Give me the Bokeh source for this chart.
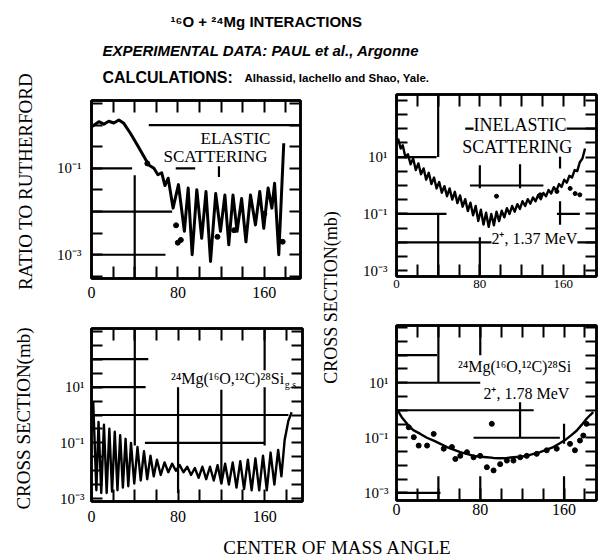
import numpy as np
from bokeh.plotting import figure
from bokeh.models import Range1d, FixedTicker, LinearAxis, LogAxis, Label
from bokeh.layouts import row, column
from bokeh.core.properties import value
from bokeh.embed import file_html
from bokeh.resources import INLINE

SERIF = "Liberation Serif"
SANS = "Liberation Sans"

# ---------------- texts ----------------
title_line1 = "¹⁶O + ²⁴Mg INTERACTIONS"
title_line2 = "EXPERIMENTAL DATA: PAUL et al., Argonne"
title_line3a = "CALCULATIONS:"
title_line3b = "Alhassid, Iachello and Shao, Yale."
ylabel_ratio = "RATIO TO RUTHERFORD"
ylabel_xs = "CROSS SECTION(mb)"
xlabel = "CENTER OF MASS ANGLE"

# ---------------- ticks ----------------
angle_ticks = [0, 20, 40, 60, 80, 100, 120, 140, 160, 180]
angle_tick_labels = {0: "0", 80: "80", 160: "160"}
ratio_tick_labels = {-1: "10⁻¹", -3: "10⁻³"}
xs_tick_labels = {1: "10¹", -1: "10⁻¹", -3: "10⁻³"}

# ---------------- data: elastic scattering (ratio to Rutherford) ----------------
elastic_angle = [0, 3.5, 6.8, 11.4, 16, 20.6, 25.3, 29.9, 36, 42.3, 48.4, 53, 57.8,
                 61.5, 65, 68, 71, 75.5, 80.5, 86, 89.5, 93.2, 97.5, 102, 106, 110.2,
                 115, 119.4, 123.5, 127.1, 131, 134.8, 139, 143, 147.2, 151.8, 155.8,
                 159.5, 163.5, 167, 169.5, 173.4, 178]
elastic_ratio = [0.91, 1.05, 1.2, 1.05, 1.23, 1.12, 1.32, 1.1, 0.65, 0.35, 0.19, 0.12, 0.10,
                 0.071, 0.079, 0.040, 0.059, 0.012, 0.042, 0.0035, 0.035, 0.0010, 0.032,
                 0.0024, 0.029, 0.0007, 0.026, 0.0035, 0.024, 0.0017, 0.024, 0.0035, 0.020,
                 0.0020, 0.024, 0.0049, 0.029, 0.0041, 0.035, 0.012, 0.045, 0.0010, 0.38]
elastic_data_angle = [51.7, 78.3, 79.9, 82.7, 116.6, 132, 160, 177]
elastic_data_ratio = [0.13, 0.0048, 0.0019, 0.0022, 0.0026, 0.0037, 0.0089, 0.0020]

# ---------------- data: inelastic scattering 2+, 1.37 MeV (mb) ----------------
inelastic_angle = [1.5, 4, 6, 8.5, 11, 13.5, 16, 18.5, 21, 23.5, 26, 28.5, 31, 33.5, 36,
                   38.5, 41, 43.5, 46, 48.5, 51, 53.5, 56, 58.5, 61, 63.5, 66, 68.5, 71,
                   73.5, 76, 78.5, 81, 83.5, 86, 88.5, 91, 93.5, 96, 98.5, 101, 103.5, 106,
                   108.5, 111, 113.5, 116, 118.5, 121, 123.5, 126, 128.5, 131, 133.5, 136,
                   138.5, 141, 143.5, 146, 148.5, 151, 153.5, 156, 158.5, 161, 163.5, 166,
                   168.5, 171, 173.5, 176, 178.5, 181]
inelastic_xs = [45, 20, 26, 10, 12.6, 5.6, 8.9, 3.5, 6.0, 2.5,
                4.0, 1.6, 2.8, 1.12, 1.9, 0.79, 1.32, 0.56, 0.95, 0.42,
                0.79, 0.32, 0.60, 0.24, 0.45, 0.18, 0.33, 0.126, 0.25, 0.089,
                0.19, 0.056, 0.14, 0.042, 0.11, 0.035, 0.10, 0.040, 0.12, 0.056,
                0.13, 0.076, 0.16, 0.10, 0.19, 0.12, 0.22, 0.15, 0.28, 0.19,
                0.33, 0.23, 0.38, 0.28, 0.46, 0.33, 0.55, 0.42, 0.69, 0.52,
                0.87, 0.66, 1.12, 0.89, 1.6, 1.26, 2.2, 1.9, 3.5, 3.2,
                6.6, 8.9, 20]
inelastic_data_angle = [96, 138, 154, 166.7, 171.5, 176]
inelastic_data_xs = [0.42, 0.47, 0.62, 0.79, 0.52, 0.47]

# ---------------- data: 24Mg(16O,12C)28Si g.s. (mb) ----------------
transfer_gs_angle = [0.5, 1.6, 4.5, 6.5, 9, 11.5, 14, 16.5, 19, 21.5,
                     24, 26.5, 29, 31.5, 34, 36.5, 39.5, 42.5, 45.5, 48.5,
                     51.5, 54.5, 57.5, 60.5, 64, 67.5, 71, 74.5, 78, 81.5,
                     85, 88.5, 92, 95.5, 99, 102.5, 106, 109.5, 113, 116.5,
                     120, 123.5, 127, 130.5, 134, 137.5, 141, 144.5, 148, 151.5,
                     155, 158.5, 162, 165.5, 169, 172.5, 175.5, 178.5, 182, 185]
transfer_gs_xs = [1.26, 2.8, 0.002, 0.56, 0.0016, 0.45, 0.0016, 0.32, 0.0018, 0.25,
                  0.002, 0.19, 0.0025, 0.14, 0.0028, 0.10, 0.0035, 0.071, 0.0045, 0.050,
                  0.005, 0.035, 0.0063, 0.025, 0.0071, 0.020, 0.0089, 0.018, 0.010, 0.016,
                  0.0089, 0.014, 0.0071, 0.0126, 0.0056, 0.014, 0.005, 0.014, 0.0045, 0.016,
                  0.0035, 0.018, 0.0032, 0.020, 0.0025, 0.022, 0.0022, 0.025, 0.002, 0.028,
                  0.002, 0.035, 0.002, 0.045, 0.0032, 0.056, 0.0063, 0.126, 0.63, 1.26]

# ---------------- data: 24Mg(16O,12C)28Si 2+, 1.78 MeV (mb) ----------------
transfer_2p_angle = [1.2, 5, 10.1, 16, 22.8, 29, 35.5, 42, 48.2, 54.5,
                     60.9, 67, 73.6, 80, 86.3, 92.6, 99, 105.4, 111.7, 118,
                     124.4, 130.8, 137.1, 143.5, 149.8, 156, 162.5, 167, 172, 177,
                     181.5, 185, 187.9]
transfer_2p_xs = [0.98, 0.56, 0.32, 0.19, 0.138, 0.10, 0.079, 0.06, 0.046, 0.037,
                  0.030, 0.026, 0.022, 0.0205, 0.0195, 0.0185, 0.018, 0.0185, 0.0195, 0.0205,
                  0.022, 0.026, 0.030, 0.037, 0.046, 0.063, 0.091, 0.125, 0.18, 0.30,
                  0.49, 0.67, 0.85]
transfer_2p_data_angle = [11.7, 16.5, 21.2, 29.2, 35.5, 45.1, 52.9, 56.2, 60.9, 67.3,
                          73.6, 79.9, 86.3, 91, 92.7, 99, 105.4, 111.7, 118.1, 124.4,
                          133.9, 143.5, 153, 165.7, 170.4, 175.2, 178.4, 181.5]
transfer_2p_data_xs = [0.24, 0.105, 0.052, 0.052, 0.138, 0.040, 0.046, 0.017, 0.022, 0.030,
                       0.0195, 0.022, 0.0085, 0.32, 0.0065, 0.011, 0.0148, 0.0148, 0.0195, 0.022,
                       0.026, 0.035, 0.040, 0.060, 0.035, 0.079, 0.12, 0.32]

# ---------------- broken grid fragments of the scan: (level, from, to) / (angle, from, to) ----------------
tl_hgrid = [(1, 53, 193.5), (0.1, 0, 37.6), (0.1, 78, 96), (0.01, 0, 74.7), (0.001, 0, 68.5)]
tl_vgrid = [(40, 0.069, 10 ** -3.55), (118, 0.126, 0.063)]
tr_hgrid = [(100, 66, 192), (10, 0, 38.5), (1, 70.5, 141), (0.1, 0, 48), (0.1, 154, 176), (0.01, 0, 192)]
tr_vgrid = [(40, 10 ** 3.2, 10), (40, 0.1, 10 ** -3.2), (80, 5.2, 0.8), (80, 0.015, 10 ** -3.2),
            (118.6, 5.6, 0.8), (157, 0.28, 0.042), (157, 20, 4)]
bl_hgrid = [(100, 0, 52.5), (10, 0, 50), (1, 0, 182), (0.1, 49.4, 160)]
bl_vgrid = [(40, 10 ** 3.1, 0.08), (80, 10, 0.0016), (120, 8, 0.0035), (160, 10 ** 3.1, 0.08)]
br_hgrid = [(100, 0, 38.7), (10, 0, 80), (1, 0, 131), (0.1, 73.6, 156), (0.001, 0, 42)]
br_vgrid = [(40, 10 ** 3.08, 10), (40, 0.004, 10 ** -3.28), (80, 10 ** 3.08, 100),
            (80, 0.004, 10 ** -3.28), (118, 5, 0.1), (160, 0.32, 0.06), (160, 0.004, 10 ** -3.28)]


def style_axis(ax, tick_len):
    ax.axis_line_color = "black"
    ax.axis_line_width = 2.5
    ax.major_tick_line_color = "black"
    ax.major_tick_line_width = 2
    ax.major_tick_in = tick_len
    ax.major_tick_out = 0
    ax.minor_tick_in = 0
    ax.minor_tick_out = 0
    ax.major_label_text_font = SERIF
    ax.major_label_text_color = "black"


def make_panel(x_max, exp_lo, exp_hi, fw, fh, bl, br, bt, bb, ylabels, xfs, xstand, yfs, ystand):
    p = figure(x_range=Range1d(0, x_max), y_range=Range1d(10.0 ** exp_lo, 10.0 ** exp_hi),
               y_axis_type="log", frame_width=fw, frame_height=fh,
               min_border_left=bl, min_border_right=br, min_border_top=bt, min_border_bottom=bb,
               toolbar_location=None, output_backend="svg",
               background_fill_color="white", border_fill_color="white")
    p.grid.visible = False
    p.outline_line_color = "black"
    p.outline_line_width = 2.5

    exps = [k / 2 for k in range(int(np.ceil(exp_lo * 2)), int(np.floor(exp_hi * 2)) + 1)]
    yticks = [10.0 ** e for e in exps]
    yover = {10.0 ** e: ylabels.get(e, "") for e in exps}
    xover = {t: angle_tick_labels.get(t, "") for t in angle_ticks}

    xa = p.xaxis[0]
    xa.ticker = FixedTicker(ticks=angle_ticks, minor_ticks=[])
    xa.major_label_overrides = xover
    style_axis(xa, 12)
    xa.major_label_text_font_size = xfs
    xa.major_label_standoff = xstand

    ya = p.yaxis[0]
    ya.ticker = FixedTicker(ticks=yticks, minor_ticks=[])
    ya.major_label_overrides = yover
    style_axis(ya, 11)
    ya.major_label_text_font_size = yfs
    ya.major_label_standoff = ystand

    top = LinearAxis(ticker=FixedTicker(ticks=angle_ticks, minor_ticks=[]))
    style_axis(top, 12)
    top.major_label_overrides = {t: "" for t in angle_ticks}
    top.major_label_text_font_size = "0px"
    top.major_label_standoff = 0
    p.add_layout(top, "above")

    right = LogAxis(ticker=FixedTicker(ticks=yticks, minor_ticks=[]))
    style_axis(right, 11)
    right.major_label_overrides = {t: "" for t in yticks}
    right.major_label_text_font_size = "0px"
    right.major_label_standoff = 0
    p.add_layout(right, "right")
    return p


def draw_grid(p, hgrid, vgrid):
    p.segment(x0=[h[1] for h in hgrid], y0=[h[0] for h in hgrid],
              x1=[h[2] for h in hgrid], y1=[h[0] for h in hgrid],
              line_color="black", line_width=2.2)
    p.segment(x0=[v[0] for v in vgrid], y0=[v[1] for v in vgrid],
              x1=[v[0] for v in vgrid], y1=[v[2] for v in vgrid],
              line_color="black", line_width=2.2)


def add_label(p, x, y, text, size, align="center"):
    p.add_layout(Label(x=x, y=y, text=text, text_font=SERIF, text_font_size=size,
                       text_align=align, text_baseline="middle", text_color="black",
                       background_fill_color="white"))


# ---------------- top-left: elastic ----------------
tl = make_panel(193.5, -3.55, 0.57, 209, 178, 46, 18, 12, 32, ratio_tick_labels, "16px", 8, "15px", 10)
draw_grid(tl, tl_hgrid, tl_vgrid)
tl.line(elastic_angle, elastic_ratio, line_color="black", line_width=3, line_join="round")
tl.scatter(elastic_data_angle, elastic_data_ratio, size=5, color="black")
add_label(tl, 133.3, 0.49, "ELASTIC", "17px")
add_label(tl, 114.8, 0.186, "SCATTERING", "17px")

# ---------------- top-right: inelastic ----------------
tr = make_panel(192, -3.2, 3.2, 200, 182, 54, 10, 6, 34, xs_tick_labels, "13px", 3, "15px", 9)
draw_grid(tr, tr_hgrid, tr_vgrid)
tr.line(inelastic_angle, inelastic_xs, line_color="black", line_width=2.4, line_join="round")
tr.scatter(inelastic_data_angle, inelastic_data_xs, size=4, color="black")
add_label(tr, 118.6, 134, "INELASTIC", "18px")
add_label(tr, 116, 23, "SCATTERING", "18px")
add_label(tr, 132.4, 0.014, "2⁺, 1.37 MeV", "16px")

# ---------------- bottom-left: transfer to ground state ----------------
bl = make_panel(195, -3.1, 3.1, 211, 173, 44, 18, 18, 29, xs_tick_labels, "16px", 9, "15px", 7)
draw_grid(bl, bl_hgrid, bl_vgrid)
bl.line(transfer_gs_angle, transfer_gs_xs, line_color="black", line_width=2.4, line_join="round")
add_label(bl, 178, 20, "²⁴Mg(¹⁶O,¹²C)²⁸Si", "16px", align="right")
bl.add_layout(Label(x=178.5, y=12, text="g.s.", text_font=SERIF, text_font_size="10px",
                    text_align="left", text_baseline="middle", text_color="black"))

# ---------------- bottom-right: transfer to 2+ ----------------
br = make_panel(191, -3.28, 3.08, 200, 175, 54, 10, 15, 30, xs_tick_labels, "16px", 3, "15px", 8)
draw_grid(br, br_hgrid, br_vgrid)
br.line(transfer_2p_angle, transfer_2p_xs, line_color="black", line_width=2.4, line_join="round")
br.scatter(transfer_2p_data_angle, transfer_2p_data_xs, size=5, color="black")
add_label(br, 112.7, 38, "²⁴Mg(¹⁶O,¹²C)²⁸Si", "16px")
add_label(br, 124, 4.0, "2⁺, 1.78 MeV", "16px")


# ---------------- text canvases ----------------
def text_canvas(w, h):
    p = figure(width=w, height=h, x_range=Range1d(0, w), y_range=Range1d(h, 0),
               x_axis_location=None, y_axis_location=None, toolbar_location=None,
               output_backend="svg", min_border=0,
               background_fill_color="white", border_fill_color="white")
    p.outline_line_color = None
    p.grid.visible = False
    return p


header = text_canvas(561, 88)
header.text(x=[125], y=[21], text=[title_line1], text_font=value(SANS), text_font_size=value("15px"),
            text_font_style="bold", text_align="left", text_baseline="middle", text_color="black")
header.text(x=[57], y=[50], text=[title_line2], text_font=value(SANS), text_font_size=value("15px"),
            text_font_style="bold italic", text_align="left", text_baseline="middle", text_color="black")
header.text(x=[57], y=[77], text=[title_line3a], text_font=value(SANS), text_font_size=value("16px"),
            text_font_style="bold", text_align="left", text_baseline="middle", text_color="black")
header.text(x=[199], y=[77], text=[title_line3b], text_font=value(SANS), text_font_size=value("11.5px"),
            text_font_style="bold", text_align="left", text_baseline="middle", text_color="black")

leftlab = text_canvas(45, 559)
leftlab.text(x=[25, 23], y=[181, 418], text=[ylabel_ratio, ylabel_xs], angle=np.pi / 2,
             text_font=value(SERIF), text_font_size=value("19px"),
             text_align="center", text_baseline="middle", text_color="black")

midlab = text_canvas(24, 442)
midlab.text(x=[12], y=[209], text=[ylabel_xs], angle=np.pi / 2,
            text_font=value(SERIF), text_font_size=value("18px"),
            text_align="center", text_baseline="middle", text_color="black")

footer = text_canvas(561, 29)
footer.text(x=[292], y=[17], text=[xlabel], text_font=value(SERIF), text_font_size=value("19px"),
            text_align="center", text_baseline="middle", text_color="black")

layout = row(leftlab,
             column(header,
                    row(column(tl, bl), midlab, column(tr, br)),
                    footer))

open("out.html", "w").write(file_html(layout, INLINE))
